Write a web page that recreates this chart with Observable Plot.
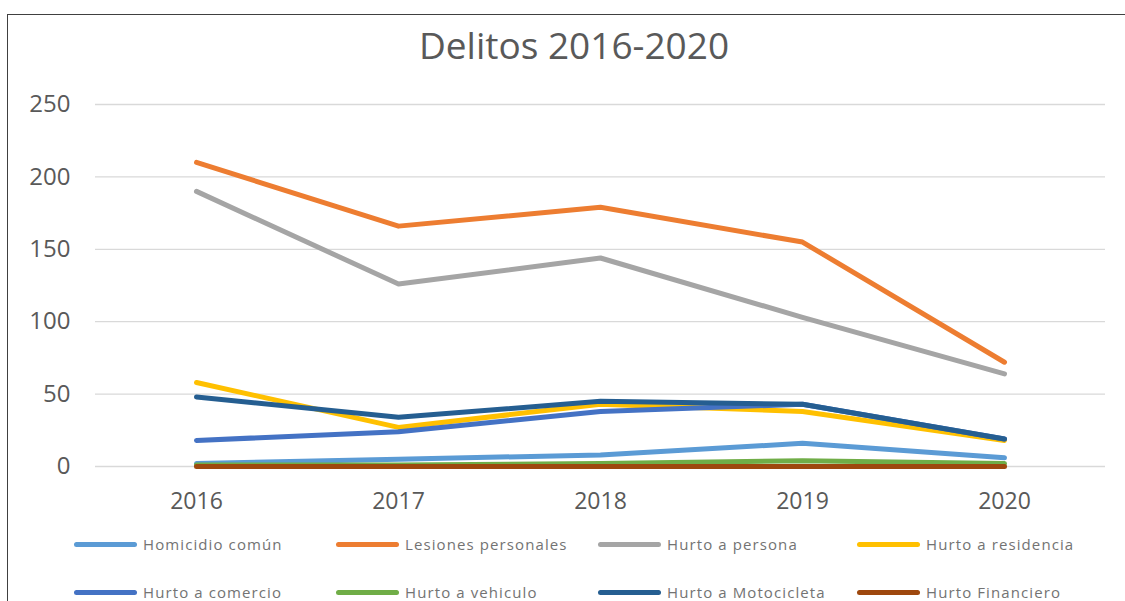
<!DOCTYPE html>
<html>
<head>
<meta charset="utf-8">
<script src="https://cdn.jsdelivr.net/npm/d3@7"></script>
<script src="https://cdn.jsdelivr.net/npm/@observablehq/plot@0.6"></script>
<style>
  html, body { margin:0; padding:0; background:#fff; width:1125px; height:601px; overflow:hidden; font-family:"Open Sans", sans-serif; }
  #frame { position:absolute; left:7px; top:14px; width:1140px; height:620px; border:1.5px solid #404040; box-sizing:border-box; }
  #title { position:absolute; left:0; top:20px; width:1148px; text-align:center; font-size:37px; color:#595959; line-height:50px; }
  #chart { position:absolute; left:0; top:0; }
  .leg { position:absolute; display:flex; align-items:center; font-size:15px; letter-spacing:1.1px; color:#737373; white-space:nowrap; }
  .sw { width:63px; height:5px; border-radius:3px; margin-right:6px; }
</style>
</head>
<body>
<div id="frame"></div>
<div id="title">Delitos 2016-2020</div>
<div id="chart"></div>
<div id="legend"></div>
<script>
const years = ["2016", "2017", "2018", "2019", "2020"];
const seriesNames = ["Homicidio común", "Lesiones personales", "Hurto a persona", "Hurto a residencia",
                     "Hurto a comercio", "Hurto a vehiculo", "Hurto a Motocicleta", "Hurto Financiero"];
const seriesColors = ["#5B9BD5", "#ED7D31", "#A5A5A5", "#FFC000", "#4472C4", "#70AD47", "#255E91", "#9E480E"];
const homicidio   = [2, 5, 8, 16, 6];
const lesiones    = [210, 166, 179, 155, 72];
const persona     = [190, 126, 144, 103, 64];
const residencia  = [58, 27, 43, 38, 18];
const comercio    = [18, 24, 38, 43, 19];
const vehiculo    = [1, 1, 2, 4, 2];
const motocicleta = [48, 34, 45, 43, 19];
const financiero  = [0, 0, 0, 0, 0];
const yTicks = [0, 50, 100, 150, 200, 250];

const allValues = [homicidio, lesiones, persona, residencia, comercio, vehiculo, motocicleta, financiero];
const data = [];
seriesNames.forEach((name, i) => {
  years.forEach((yr, j) => data.push({series: name, year: yr, value: allValues[i][j]}));
});

const chart = Plot.plot({
  width: 1125,
  height: 530,
  marginLeft: 95,
  marginRight: 20,
  marginTop: 104,
  marginBottom: 64,
  style: {fontFamily: "Open Sans, sans-serif", color: "#595959", background: "transparent"},
  x: {type: "point", domain: years, padding: 0.5, label: null},
  y: {domain: [0, 250], label: null},
  color: {domain: seriesNames, range: seriesColors},
  marks: [
    Plot.ruleY(yTicks, {stroke: "#d9d9d9", strokeWidth: 1.3}),
    Plot.axisY({ticks: yTicks, tickSize: 0, tickPadding: 25, fontSize: 24, label: null}),
    Plot.axisX({tickSize: 0, tickPadding: 26, fontSize: 23, label: null}),
    Plot.line(data, {x: "year", y: "value", z: "series", stroke: "series", strokeWidth: 5, strokeLinejoin: "round", strokeLinecap: "round"})
  ]
});
document.getElementById("chart").appendChild(chart);

const legend = document.getElementById("legend");
const colX = [74, 336, 598, 857];
const rowY = [534, 582];
seriesNames.forEach((name, i) => {
  const d = document.createElement("div");
  d.className = "leg";
  d.style.left = colX[i % 4] + "px";
  d.style.top = rowY[Math.floor(i / 4)] + "px";
  d.innerHTML = `<div class="sw" style="background:${seriesColors[i]}"></div><span>${name}</span>`;
  legend.appendChild(d);
});
</script>
</body>
</html>
